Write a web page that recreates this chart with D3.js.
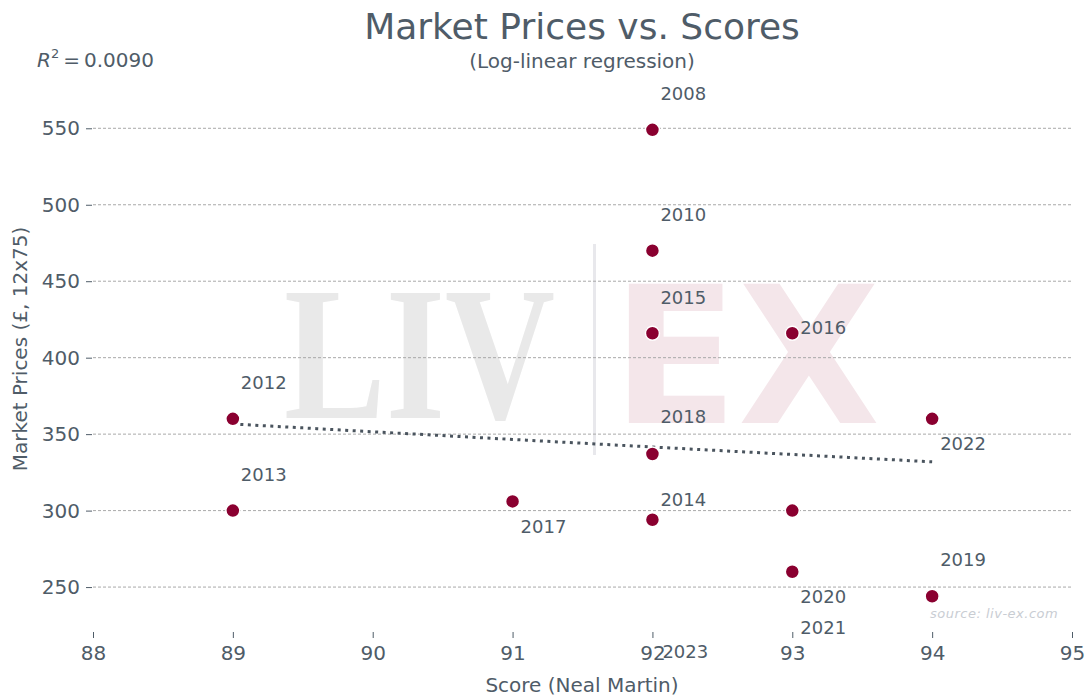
<!DOCTYPE html>
<html>
<head>
<meta charset="utf-8">
<script src="https://cdn.jsdelivr.net/npm/d3@7"></script>
<style>
  body { margin: 0; background: #fff; }
  svg { font-family: "DejaVu Sans", sans-serif; }
</style>
</head>
<body>
<svg id="chart" width="1089" height="700"></svg>
<script>
// vintages, scores and prices
const years = [2008, 2010, 2012, 2013, 2014, 2015, 2016, 2017, 2018, 2019, 2020, 2021, 2022, 2023];
const scores = [92, 92, 89, 89, 92, 92, 93, 91, 92, 94, 93, 93, 94, 92];
const prices = [549, 470, 360, 300, 294, 416, 416, 306, 337, 244, 260, 300, 360, 294];
const xTicks = [88, 89, 90, 91, 92, 93, 94, 95];
const yTicks = [250, 300, 350, 400, 450, 500, 550];
const rSquaredLabel = "0.0090";

// label nudges (px) roughly as placed in the original
const labelOffsets = [
  [8, -36], [8, -36], [8, -36], [8, -36], [8, -20], [8, -36], [8, -6],
  [8, 25], [8, -37], [8, -37], [8, 25], [8, 117], [8, 25], [10, 132]
];

const textColor = "#4f5c68";
const pointColor = "#8a0030";

const svg = d3.select("#chart");

const x = d3.scaleLinear().domain([88, 95]).range([93, 1072]);
const y = d3.scaleLinear().domain([218, 594]).range([636, 61]);

// watermark
const wm = svg.append("g");
wm.append("text")
  .attr("x", 284).attr("y", 418)
  .attr("textLength", 271).attr("lengthAdjust", "spacingAndGlyphs")
  .style("font-family", "'Liberation Serif', 'DejaVu Serif', serif")
  .style("font-weight", "bold")
  .style("font-size", "190px")
  .attr("fill", "#e9e9e9")
  .text("LIV");
wm.append("rect")
  .attr("x", 593).attr("y", 244).attr("width", 3).attr("height", 211)
  .attr("fill", "#e8e8ec");
wm.append("text")
  .attr("x", 612).attr("y", 423)
  .attr("textLength", 268).attr("lengthAdjust", "spacingAndGlyphs")
  .style("font-family", "'DejaVu Sans', sans-serif")
  .style("font-weight", "bold")
  .style("font-size", "190px")
  .attr("fill", "#f4e6ea")
  .text("EX");

// horizontal grid
svg.append("g")
  .selectAll("line")
  .data(yTicks)
  .join("line")
  .attr("x1", 93).attr("x2", 1072)
  .attr("y1", d => y(d)).attr("y2", d => y(d))
  .attr("stroke", "#a9a9a9")
  .attr("stroke-width", 1)
  .attr("stroke-dasharray", "3,2");

// y axis
const yAxis = svg.append("g")
  .attr("transform", "translate(92,0)")
  .call(d3.axisLeft(y).tickValues(yTicks).tickSize(6).tickPadding(6));
yAxis.select(".domain").remove();
yAxis.selectAll("line").attr("stroke", textColor);
yAxis.selectAll("text")
  .attr("fill", textColor)
  .style("font-size", "20px")
  .style("font-family", "'DejaVu Sans', sans-serif");

// x axis
const xAxis = svg.append("g")
  .attr("transform", "translate(0,632)")
  .call(d3.axisBottom(x).tickValues(xTicks).tickFormat(d3.format("d")).tickSize(6).tickPadding(8));
xAxis.select(".domain").remove();
xAxis.selectAll("line").attr("stroke", textColor);
xAxis.selectAll("text")
  .attr("fill", textColor)
  .style("font-size", "20px")
  .style("font-family", "'DejaVu Sans', sans-serif");

// log-linear regression trend
const n = scores.length;
const lp = prices.map(Math.log);
const mx = d3.mean(scores), my = d3.mean(lp);
let sxy = 0, sxx = 0;
for (let i = 0; i < n; i++) {
  sxy += (scores[i] - mx) * (lp[i] - my);
  sxx += (scores[i] - mx) ** 2;
}
const slope = sxy / sxx, icpt = my - slope * mx;
const xs = d3.range(d3.min(scores), d3.max(scores) + 0.001, 0.1);
svg.append("path")
  .datum(xs)
  .attr("fill", "none")
  .attr("stroke", "#4a545e")
  .attr("stroke-width", 3)
  .attr("stroke-dasharray", "3,4.5")
  .attr("d", d3.line().x(d => x(d)).y(d => y(Math.exp(icpt + slope * d))));

// points
svg.append("g")
  .selectAll("circle")
  .data(years)
  .join("circle")
  .attr("cx", (_, i) => x(scores[i]))
  .attr("cy", (_, i) => y(prices[i]))
  .attr("r", 7)
  .attr("fill", pointColor)
  .attr("stroke", "#fff")
  .attr("stroke-width", 1.5);

// year labels
svg.append("g")
  .selectAll("text")
  .data(years)
  .join("text")
  .attr("x", (_, i) => x(scores[i]) + labelOffsets[i][0])
  .attr("y", (_, i) => y(prices[i]) + labelOffsets[i][1])
  .attr("dy", "0.35em")
  .attr("fill", textColor)
  .style("font-size", "18px")
  .text(d => d);

// titles
svg.append("text")
  .attr("x", 582).attr("y", 39)
  .attr("text-anchor", "middle")
  .attr("fill", textColor)
  .style("font-size", "36px")
  .text("Market Prices vs. Scores");
svg.append("text")
  .attr("x", 582).attr("y", 68)
  .attr("text-anchor", "middle")
  .attr("fill", textColor)
  .style("font-size", "20px")
  .text("(Log-linear regression)");

const r2 = svg.append("text")
  .attr("x", 37).attr("y", 67)
  .attr("fill", textColor)
  .style("font-size", "20px");
r2.append("tspan").style("font-style", "italic").text("R");
r2.append("tspan").attr("dy", -9).style("font-size", "13px").text("2");
r2.append("tspan").attr("dy", 9).text("\u2009=\u2009" + rSquaredLabel);

// axis titles
svg.append("text")
  .attr("x", 582).attr("y", 692)
  .attr("text-anchor", "middle")
  .attr("fill", textColor)
  .style("font-size", "20px")
  .text("Score (Neal Martin)");
svg.append("text")
  .attr("transform", "translate(27,349) rotate(-90)")
  .attr("text-anchor", "middle")
  .attr("fill", textColor)
  .style("font-size", "20px")
  .text("Market Prices (£, 12x75)");

// source note
svg.append("text")
  .attr("x", 930).attr("y", 618)
  .attr("fill", "#c9cdd3")
  .style("font-size", "13px")
  .style("font-style", "italic")
  .style("letter-spacing", "0.5px")
  .text("source: liv-ex.com");
</script>
</body>
</html>
